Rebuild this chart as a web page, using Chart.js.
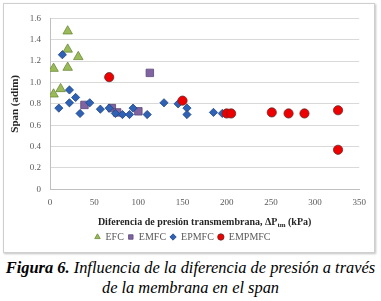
<!DOCTYPE html>
<html lang="es">
<head>
<meta charset="utf-8">
<script src="https://cdn.jsdelivr.net/npm/chart.js@4"></script>
<style>
  body { margin: 0; background: #fff; width: 381px; height: 301px; overflow: hidden; position: relative; }
  #caja { position: absolute; left: 3px; top: 3px; width: 370px; height: 248px; border: 1px solid #cfcfcf; box-shadow: 1px 1px 2px rgba(0,0,0,0.25); background: #fff; }
  #leyenda-fig { position: absolute; left: 0; top: 258px; width: 381px; text-align: center; font-family: "Liberation Serif", serif; font-style: italic; font-size: 16.4px; line-height: 20px; color: #000; white-space: nowrap; }
</style>
</head>
<body>
<div id="caja"><canvas id="miGrafico" width="370" height="248"></canvas></div>
<div id="leyenda-fig"><b>Figura 6.</b> Influencia de la diferencia de presión a través<br>de la membrana en el span</div>
<script>
// Datos (x = ΔPtm en kPa, y = span)
const efcX = [20, 20, 32, 4, 20, 12, 4];
const efcY = [1.48, 1.31, 1.24, 1.13, 1.14, 0.94, 0.89];

const emfcX = [39, 70, 76, 100, 113];
const emfcY = [0.79, 0.76, 0.72, 0.73, 1.09];

const epmfcX = [14, 10, 22, 22, 29, 34, 45, 57, 67, 74, 82, 90, 94, 110, 129, 145, 155, 155, 185, 195];
const epmfcY = [1.26, 0.76, 0.93, 0.81, 0.86, 0.71, 0.81, 0.75, 0.76, 0.71, 0.70, 0.70, 0.76, 0.70, 0.81, 0.80, 0.76, 0.70, 0.72, 0.71];

const empmfcX = [67, 150, 200, 205, 251, 270, 288, 326, 326];
const empmfcY = [1.05, 0.83, 0.71, 0.71, 0.72, 0.71, 0.71, 0.74, 0.37];

const nombres = ['EFC', 'EMFC', 'EPMFC', 'EMPMFC'];

function puntos(xs, ys) {
    return xs.map((x, i) => ({ x: x, y: ys[i] }));
}

const fuente = '"Liberation Serif", serif';

// Titulos de los ejes dibujados a mano (por el subindice "tm")
const titulosEjes = {
    id: 'titulosEjes',
    afterDraw(chart) {
        const ctx = chart.ctx;
        const area = chart.chartArea;
        ctx.save();
        ctx.fillStyle = '#262626';
        ctx.textBaseline = 'middle';

        // eje x
        const t1 = 'Diferencia de presión transmembrana, ΔP';
        const t3 = ' (kPa)';
        ctx.font = 'bold 10px ' + fuente;
        const w1 = ctx.measureText(t1).width;
        const w3 = ctx.measureText(t3).width;
        ctx.font = 'bold 7px ' + fuente;
        const w2 = ctx.measureText('tm').width;
        let x = (area.left + area.right) / 2 - (w1 + w2 + w3) / 2;
        const y = 218;
        ctx.textAlign = 'left';
        ctx.font = 'bold 10px ' + fuente;
        ctx.fillText(t1, x, y);
        ctx.font = 'bold 7px ' + fuente;
        ctx.fillText('tm', x + w1, y + 3);
        ctx.font = 'bold 10px ' + fuente;
        ctx.fillText(t3, x + w1 + w2, y);

        // eje y
        ctx.translate(11, (area.top + area.bottom) / 2);
        ctx.rotate(-Math.PI / 2);
        ctx.textAlign = 'center';
        ctx.font = 'bold 11px ' + fuente;
        ctx.fillText('Span (adim)', 0, 0);
        ctx.restore();
    }
};

const ctx = document.getElementById('miGrafico').getContext('2d');

new Chart(ctx, {
    type: 'scatter',
    data: {
        datasets: [
            {
                label: nombres[0],
                data: puntos(efcX, efcY),
                pointStyle: 'triangle',
                pointRadius: 5.5,
                backgroundColor: '#9bbb59',
                borderColor: '#6b8a3a',
                borderWidth: 0.8,
                order: 4
            },
            {
                label: nombres[1],
                data: puntos(emfcX, emfcY),
                pointStyle: 'rect',
                pointRadius: 5.3,
                backgroundColor: '#8064a2',
                borderColor: '#5a4678',
                borderWidth: 0.8,
                order: 3
            },
            {
                label: nombres[2],
                data: puntos(epmfcX, epmfcY),
                pointStyle: 'rectRot',
                pointRadius: 4.1,
                backgroundColor: '#2f62b5',
                borderColor: '#1f4585',
                borderWidth: 0.8,
                order: 2
            },
            {
                label: nombres[3],
                data: puntos(empmfcX, empmfcY),
                pointStyle: 'circle',
                pointRadius: 4.6,
                backgroundColor: '#ee0000',
                borderColor: '#6b2a2a',
                borderWidth: 0.8,
                order: 1
            }
        ]
    },
    options: {
        responsive: false,
        animation: false,
        layout: { padding: { top: 9.5, right: 13, bottom: 0, left: 0 } },
        plugins: {
            tooltip: { enabled: false },
            legend: {
                position: 'bottom',
                labels: {
                    usePointStyle: true,
                    boxWidth: 6,
                    boxHeight: 4.5,
                    padding: 4,
                    color: '#595959',
                    font: { family: fuente, size: 10 },
                    sort: (a, b) => a.datasetIndex - b.datasetIndex
                }
            }
        },
        scales: {
            x: {
                type: 'linear',
                min: 0,
                max: 350,
                ticks: { stepSize: 50, padding: 8, color: '#595959', font: { family: fuente, size: 9 } },
                grid: { display: false, drawTicks: false },
                border: { display: true, color: '#bfbfbf' },
                afterFit: (scale) => { scale.height = 38.7; }
            },
            y: {
                min: 0,
                max: 1.6,
                ticks: { stepSize: 0.2, padding: 9, color: '#595959', font: { family: fuente, size: 9 } },
                grid: { color: '#d9d9d9', drawTicks: false },
                border: { display: true, color: '#bfbfbf' },
                afterFit: (scale) => { scale.width = 46; }
            }
        }
    },
    plugins: [titulosEjes]
});
</script>
</body>
</html>
